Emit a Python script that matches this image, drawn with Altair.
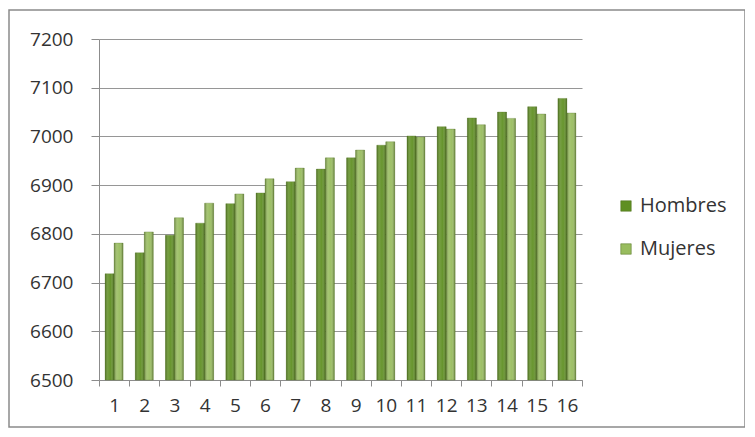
import altair as alt
import pandas as pd

categorias = [str(i) for i in range(1, 17)]
hombres = [6718, 6761, 6797, 6822, 6862, 6884, 6907, 6933, 6956, 6982, 7001, 7020, 7038, 7050, 7061, 7078]
mujeres = [6781, 6804, 6833, 6863, 6882, 6913, 6935, 6956, 6972, 6989, 6999, 7015, 7024, 7037, 7046, 7048]
series = ["Hombres", "Mujeres"]
y_ticks = [6500, 6600, 6700, 6800, 6900, 7000, 7100, 7200]

rows = []
for c, h, m in zip(categorias, hombres, mujeres):
    rows.append({"cat": c, "serie": series[0], "valor": h})
    rows.append({"cat": c, "serie": series[1], "valor": m})
df = pd.DataFrame(rows)

FONT = "Open Sans"
W, H = 483, 341

x_enc = alt.X("cat:N", sort=categorias, title=None,
              scale=alt.Scale(paddingInner=0, paddingOuter=0),
              axis=alt.Axis(labelAngle=0, tickBand="extent", domainColor="#8c8c8c",
                            tickColor="#8c8c8c", tickSize=6, labelPadding=10,
                            labelFontSize=19, labelColor="#333333", labelFont=FONT,
                            grid=False))
xo_enc = alt.XOffset("serie:N", sort=series,
                     scale=alt.Scale(paddingOuter=0.68, paddingInner=0))
y_enc = alt.Y("valor:Q", title=None,
              scale=alt.Scale(domain=[6500, 7200], zero=False, nice=False),
              axis=alt.Axis(values=y_ticks, format="d", domainColor="#8c8c8c",
                            tickColor="#8c8c8c", tickSize=8, labelPadding=18,
                            gridColor="#969696", gridWidth=1.2,
                            labelFontSize=19, labelColor="#333333", labelFont=FONT))

base = alt.Chart(df)

bars = base.mark_bar(stroke="#4d6e1c", strokeWidth=0.5, strokeOpacity=0.6).encode(
    x=x_enc, xOffset=xo_enc, y=y_enc, y2=alt.datum(6500),
    color=alt.Color("serie:N", sort=series,
                    scale=alt.Scale(domain=series, range=["#5f8f22", "#98bc5e"]),
                    legend=alt.Legend(title=None, orient="none", legendX=517, legendY=157,
                                      labelFontSize=20, labelFont=FONT, labelColor="#333333",
                                      symbolType="square", symbolSize=110, rowPadding=23,
                                      symbolStrokeColor="#4d6e1c", symbolStrokeWidth=0.5)),
)

shade = base.mark_bar(
    color=alt.Gradient(
        gradient="linear", x1=0, x2=1, y1=0, y2=0,
        stops=[
            alt.GradientStop(offset=0, color="rgba(40,60,10,0.45)"),
            alt.GradientStop(offset=0.35, color="rgba(255,255,255,0.12)"),
            alt.GradientStop(offset=0.6, color="rgba(255,255,255,0.05)"),
            alt.GradientStop(offset=1, color="rgba(40,60,10,0.5)"),
        ],
    )
).encode(x=x_enc, xOffset=xo_enc, y=y_enc, y2=alt.datum(6500))

border = alt.Chart(pd.DataFrame({"a": [0]})).mark_rect(
    fill=None, stroke="#8a8a8a", strokeWidth=1.5
).encode(x=alt.value(-90), x2=alt.value(646), y=alt.value(-29), y2=alt.value(388))

chart = alt.layer(border, bars, shade).properties(
    width=W, height=H,
    padding={"left": 91, "top": 31, "right": 163, "bottom": 48},
    autosize=alt.AutoSizeParams(type="none"),
    background="white",
).configure_view(stroke=None)

chart.save("out.html", embed_options={"renderer": "svg", "actions": False})
